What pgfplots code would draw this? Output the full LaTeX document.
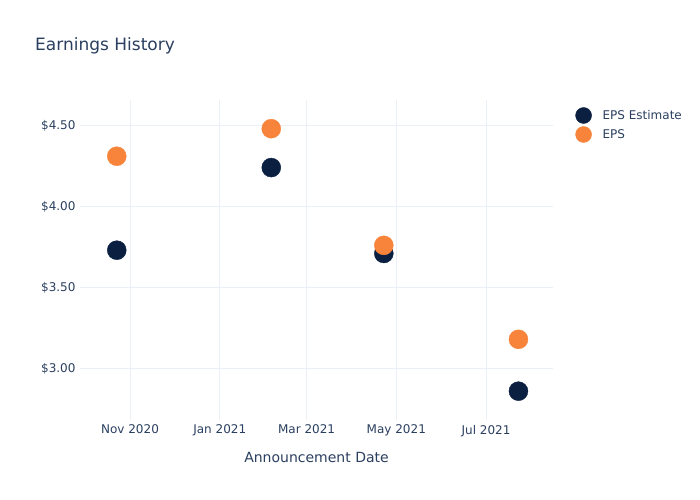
\documentclass[border=0pt]{standalone}
\usepackage{pgfplots}
\pgfplotsset{compat=1.18}
\usepackage{fontspec}
\setmainfont{DejaVu Sans}
\definecolor{navy}{HTML}{0B1F41}
\definecolor{orng}{HTML}{F7843A}
\definecolor{txt}{HTML}{2A3F5F}
\definecolor{grd}{HTML}{EBF0F8}
\begin{document}
\begin{tikzpicture}[x=1bp,y=1bp]
\path[use as bounding box] (0,0) rectangle (700,500);
\node[anchor=base west, font=\fontsize{17bp}{20bp}\selectfont, text=txt, inner sep=0] at (35,449) {Earnings History};
\begin{axis}[at={(80bp,79.5bp)}, anchor=south west, scale only axis, width=473bp, height=320bp,
 xmin=-34, xmax=287.5, ymin=2.679, ymax=4.654,
 axis line style={draw=none}, tick style={draw=none},
 grid=major, grid style={grd, line width=1bp},
 xtick={0,61,120,181,242}, xticklabels={Nov 2020, Jan 2021, Mar 2021, May 2021, Jul 2021},
 ytick={3,3.5,4,4.5}, yticklabels={\$3.00,\$3.50,\$4.00,\$4.50},
 ticklabel style={font=\fontsize{12bp}{14bp}\selectfont, text=txt},
 xticklabel style={yshift=-1bp},
 yticklabel style={xshift=-1bp},
 xlabel={Announcement Date}, xlabel style={font=\fontsize{14bp}{17bp}\selectfont, text=txt, yshift=-9bp},
 legend style={at={(1.041,0.985)}, anchor=north west, draw=none, fill=none,
   font=\fontsize{12bp}{14bp}\selectfont, text=txt, row sep=3bp},
 legend cell align=left,
 legend image code/.code={\path[draw=none,fill=none] (-2bp,0) -- (23bp,0); \draw[#1] plot coordinates {(6bp,0)};},
 legend image post style={mark size=8bp},
]
\addplot[only marks, mark=*, mark size=9.5bp, mark options={fill=navy, draw=navy}] coordinates {
 (-9,3.73) (96,4.24) (172.5,3.71) (264,2.86)};
\addlegendentry{EPS Estimate}
\addplot[only marks, mark=*, mark size=9.5bp, mark options={fill=orng, draw=orng}] coordinates {
 (-9,4.31) (96,4.48) (172.5,3.76) (264,3.18)};
\addlegendentry{EPS}
\end{axis}
\end{tikzpicture}
\end{document}
